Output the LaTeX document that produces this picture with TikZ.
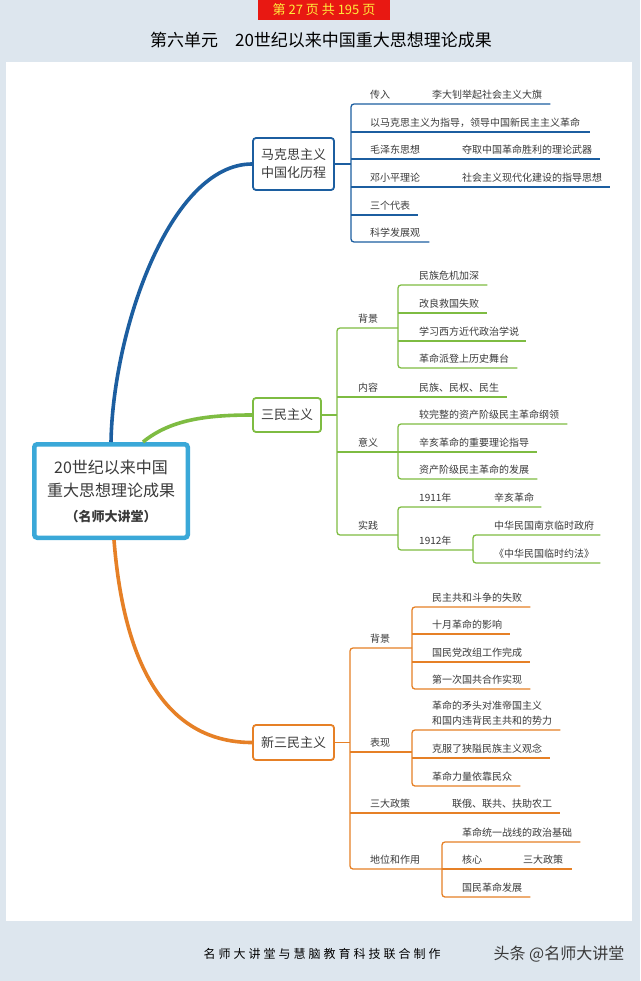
\documentclass[tikz,border=0pt]{standalone}
\usepackage{fontspec}
\setmainfont{Noto Sans CJK SC}
\usepackage{xcolor}
\usetikzlibrary{positioning}

\definecolor{bgpage}{RGB}{221,230,238}
\definecolor{mblue}{RGB}{28,94,160}
\definecolor{mgreen}{RGB}{126,188,66}
\definecolor{morange}{RGB}{230,128,38}
\definecolor{mcyan}{RGB}{58,168,216}
\definecolor{txt}{RGB}{58,58,58}
\definecolor{pagered}{RGB}{232,24,18}
\definecolor{pageyellow}{RGB}{255,236,60}

\tikzset{
  leaf/.style={anchor=south west, inner xsep=0pt, inner ysep=5pt, text depth=0pt,
    text=txt, font=\fontsize{10}{15}\selectfont},
  topic/.style={draw, rounded corners=3pt, line width=1.8pt, fill=white, text=txt,
    align=center, inner sep=2pt, font=\fontsize{13}{18}\selectfont},
  twig/.style={line width=1.3pt, rounded corners=3pt},
  trunk/.style={line width=3.6pt},
}

\begin{document}
\begin{tikzpicture}[x=1pt,y=-1pt]
  \useasboundingbox (0,0) rectangle (640,981);
  \fill[bgpage] (0,0) rectangle (640,981);
  \fill[white] (6,62) rectangle (632,921);

  % header and footer
  \node[fill=pagered, text=pageyellow, minimum width=132pt, minimum height=21pt, inner sep=0pt,
    font=\fontsize{13}{13}\selectfont] (pageno) at (324,10) {第 27 页 共 195 页};
  \node[font=\fontsize{17}{17}\selectfont, text=black] (title) at (321,40)
    {第六单元\quad 20世纪以来中国重大思想理论成果};
  \node[font=\fontsize{12}{12}\selectfont\addfontfeature{LetterSpace=25}, text=black, anchor=west]
    (credit) at (200,954) {名师大讲堂与慧脑教育科技联合制作};
  \node[font=\fontsize{16}{16}\selectfont, text=txt, anchor=west] (brand) at (490,954)
    {头条 @名师大讲堂};

  % root and topics
  \node[draw=mcyan, line width=4.5pt, rounded corners=3pt, fill=white, text=txt, align=center,
    minimum width=153.5pt, minimum height=93.5pt, font=\fontsize{16}{23}\selectfont] (root) at (111,491)
    {20世纪以来中国\\重大思想理论成果\\[2pt]
     {\fontsize{13}{16}\selectfont\bfseries （名师大讲堂）}};
  \node[topic, draw=mblue, minimum width=81pt, minimum height=52pt] (marx) at (293.5,164)
    {马克思主义\\中国化历程};
  \node[topic, draw=mgreen, minimum width=68pt, minimum height=34pt] (sanmin) at (287,415)
    {三民主义};
  \node[topic, draw=morange, minimum width=81pt, minimum height=35pt] (xinsan) at (293.5,742.5)
    {新三民主义};

  \draw[trunk, mblue] (root.north) .. controls (113,330) and (170,164) .. (marx.west);
  \draw[trunk, mgreen] ([xshift=32pt]root.north) .. controls (170,420) and (205,415) .. (sanmin.west);
  \draw[trunk, morange] ([xshift=3pt]root.south) .. controls (125,680) and (175,742.5) .. (xinsan.west);

  % blue branch
  \coordinate (bx) at (351,0);
  \node[leaf] (b1) at (370,104) {传入};
  \node[leaf] (b1r) at (432,104) {李大钊举起社会主义大旗};
  \node[leaf] (b2) at (370,132) {以马克思主义为指导，领导中国新民主主义革命};
  \node[leaf] (b3) at (370,159) {毛泽东思想};
  \node[leaf] (b3r) at (462,159) {夺取中国革命胜利的理论武器};
  \node[leaf] (b4) at (370,187) {邓小平理论};
  \node[leaf] (b4r) at (462,187) {社会主义现代化建设的指导思想};
  \node[leaf] (b5) at (370,215) {三个代表};
  \node[leaf] (b6) at (370,242) {科学发展观};
  \draw[twig, mblue] (marx.east) -- (bx |- marx.east);
  \draw[twig, mblue] ([xshift=8pt]b1r.south east) -- (bx |- b1.south) -- (bx |- b6.south)
    -- ([xshift=9pt]b6.south east);
  \draw[twig, mblue] (bx |- b2.south) -- ([xshift=10pt]b2.south east);
  \draw[twig, mblue] (bx |- b3.south) -- ([xshift=8pt]b3r.south east);
  \draw[twig, mblue] (bx |- b4.south) -- ([xshift=8pt]b4r.south east);
  \draw[twig, mblue] (bx |- b5.south) -- ([xshift=8pt]b5.south east);

  % green branch
  \coordinate (gx) at (337,0);
  \coordinate (gy) at (398,0);
  \coordinate (gz) at (473,0);
  \node[leaf] (g1) at (358,328) {背景};
  \node[leaf] (g11) at (419,285) {民族危机加深};
  \node[leaf] (g12) at (419,313) {改良救国失败};
  \node[leaf] (g13) at (419,341) {学习西方近代政治学说};
  \node[leaf] (g14) at (419,368) {革命派登上历史舞台};
  \node[leaf] (g2) at (358,397) {内容};
  \node[leaf] (g2r) at (419,397) {民族、民权、民生};
  \node[leaf] (g3) at (358,452) {意义};
  \node[leaf] (g31) at (419,424) {较完整的资产阶级民主革命纲领};
  \node[leaf] (g32) at (419,452) {辛亥革命的重要理论指导};
  \node[leaf] (g33) at (419,479) {资产阶级民主革命的发展};
  \node[leaf] (g4) at (358,535) {实践};
  \node[leaf] (g41) at (419,507) {1911年};
  \node[leaf] (g41r) at (494,507) {辛亥革命};
  \node[leaf] (g42) at (419,550) {1912年};
  \node[leaf] (g421) at (494,535) {中华民国南京临时政府};
  \node[leaf] (g422) at (494,563) {《中华民国临时约法》};
  \draw[twig, mgreen] (sanmin.east) -- (gx |- sanmin.east);
  \draw[twig, mgreen] (gy |- g1.south) -- (gx |- g1.south) -- (gx |- g4.south) -- (gy |- g4.south);
  \draw[twig, mgreen] (gx |- g2.south) -- ([xshift=8pt]g2r.south east);
  \draw[twig, mgreen] (gx |- g3.south) -- (gy |- g3.south);
  \draw[twig, mgreen] ([xshift=8pt]g11.south east) -- (gy |- g11.south) -- (gy |- g14.south)
    -- ([xshift=8pt]g14.south east);
  \draw[twig, mgreen] (gy |- g12.south) -- ([xshift=8pt]g12.south east);
  \draw[twig, mgreen] (gy |- g13.south) -- ([xshift=7pt]g13.south east);
  \draw[twig, mgreen] ([xshift=8pt]g31.south east) -- (gy |- g31.south) -- (gy |- g33.south)
    -- ([xshift=8pt]g33.south east);
  \draw[twig, mgreen] (gy |- g32.south) -- ([xshift=8pt]g32.south east);
  \draw[twig, mgreen] ([xshift=7pt]g41r.south east) -- (gy |- g41.south) -- (gy |- g42.south)
    -- (gz |- g42.south);
  \draw[twig, mgreen] ([xshift=6pt]g421.south east) -- (gz |- g421.south) -- (gz |- g422.south)
    -- ([xshift=6pt]g422.south east);

  % orange branch
  \coordinate (ox) at (350,0);
  \coordinate (oy) at (412,0);
  \coordinate (oz) at (442,0);
  \node[leaf] (o1) at (370,648) {背景};
  \node[leaf] (o11) at (432,607) {民主共和斗争的失败};
  \node[leaf] (o12) at (432,634) {十月革命的影响};
  \node[leaf] (o13) at (432,662) {国民党改组工作完成};
  \node[leaf] (o14) at (432,689) {第一次国共合作实现};
  \node[leaf] (o2) at (370,752) {表现};
  \node[leaf, align=left] (o21) at (432,730) {革命的矛头对准帝国主义\\和国内违背民主共和的势力};
  \node[leaf] (o22) at (432,758) {克服了狭隘民族主义观念};
  \node[leaf] (o23) at (432,786) {革命力量依靠民众};
  \node[leaf] (o3) at (370,813) {三大政策};
  \node[leaf] (o3r) at (452,813) {联俄、联共、扶助农工};
  \node[leaf] (o4) at (370,869) {地位和作用};
  \node[leaf] (o41) at (462,842) {革命统一战线的政治基础};
  \node[leaf] (o42) at (462,869) {核心};
  \node[leaf] (o42r) at (523,869) {三大政策};
  \node[leaf] (o43) at (462,897) {国民革命发展};
  \draw[twig, morange] (xinsan.east) -- (ox |- xinsan.east);
  \draw[twig, morange] (oy |- o1.south) -- (ox |- o1.south) -- (ox |- o4.south) -- (oz |- o4.south);
  \draw[twig, morange] (ox |- o2.south) -- (oy |- o2.south);
  \draw[twig, morange] (ox |- o3.south) -- ([xshift=8pt]o3r.south east);
  \draw[twig, morange] ([xshift=8pt]o11.south east) -- (oy |- o11.south) -- (oy |- o14.south)
    -- ([xshift=8pt]o14.south east);
  \draw[twig, morange] (oy |- o12.south) -- ([xshift=8pt]o12.south east);
  \draw[twig, morange] (oy |- o13.south) -- ([xshift=8pt]o13.south east);
  \draw[twig, morange] ([xshift=8pt]o21.south east) -- (oy |- o21.south) -- (oy |- o23.south)
    -- ([xshift=8pt]o23.south east);
  \draw[twig, morange] (oy |- o22.south) -- ([xshift=8pt]o22.south east);
  \draw[twig, morange] ([xshift=8pt]o41.south east) -- (oz |- o41.south) -- (oz |- o43.south)
    -- ([xshift=8pt]o43.south east);
  \draw[twig, morange] (oz |- o42.south) -- ([xshift=9pt]o42r.south east);
\end{tikzpicture}
\end{document}
